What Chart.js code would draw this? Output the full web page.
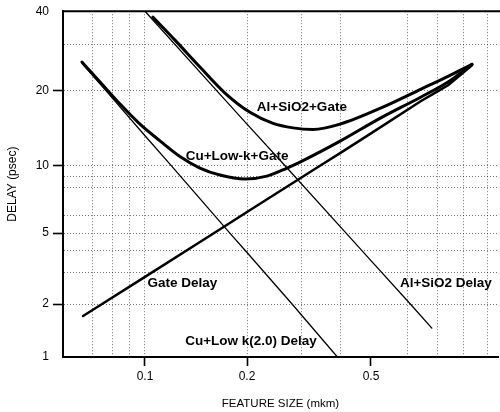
<!DOCTYPE html>
<html>
<head>
<meta charset="utf-8">
<script src="https://cdn.jsdelivr.net/npm/chart.js@4.4.1/dist/chart.umd.min.js"></script>
<style>
  html, body { margin: 0; padding: 0; background: #fff; }
  #c { display: block; }
</style>
</head>
<body>
<canvas id="c" width="500" height="412"></canvas>
<script>
// ---------------- data ----------------
const xTickLabels = [0.1, 0.2, 0.5];
const yTickLabels = [1, 2, 5, 10, 20, 40];
const xGrid = [0.07, 0.08, 0.09, 0.1, 0.2, 0.3, 0.4, 0.6, 0.7, 0.8, 0.9];
const yGrid = [2, 3, 4, 5, 6, 8, 9, 10, 20, 30];
const xTickMarks = [0.1, 0.2, 0.5];
const yTickMarks = [2, 5, 10, 20];

const alGateX = [0.1055, 0.1226, 0.1453, 0.1722, 0.2045, 0.2425, 0.281, 0.3257, 0.398, 0.531, 0.644, 0.738, 0.833];
const alGateY = [38.0, 31.1, 24.6, 19.6, 16.4, 14.8, 14.2, 14.0, 14.7, 17.2, 20.3, 22.7, 25.2];

const cuGateX = [0.0649, 0.0735, 0.0843, 0.0966, 0.1107, 0.1268, 0.1453, 0.1664, 0.1972, 0.2318, 0.2688, 0.2959, 0.398, 0.523, 0.644, 0.738, 0.833];
const cuGateY = [25.7, 21.6, 17.7, 14.7, 12.6, 10.9, 9.77, 9.09, 8.72, 8.99, 9.77, 10.35, 12.56, 15.5, 18.9, 21.6, 25.2];

const gateX = [0.0654, 0.0745, 0.1, 0.16, 0.2, 0.343, 0.398, 0.5, 0.644, 0.703, 0.738, 0.833];
const gateY = [1.71, 2.0, 2.84, 5.0, 6.21, 10.0, 11.24, 13.5, 18.2, 20.0, 21.0, 25.0];

const alDelayX = [0.1, 0.163, 0.2, 0.265, 0.416, 0.5, 0.61, 0.68];
const alDelayY = [40, 20, 14.7, 10, 5, 3.5, 2, 1.46];

const cuDelayX = [0.0649, 0.0766, 0.1, 0.1197, 0.178, 0.2, 0.279, 0.39];
const cuDelayY = [25.4, 20, 13.2, 10, 5, 3.89, 2, 1];

const curveLabels = ['Al+SiO2+Gate', 'Cu+Low-k+Gate', 'Gate Delay', 'Al+SiO2 Delay', 'Cu+Low k(2.0) Delay'];
const labelX = [0.30, 0.187, 0.129, 0.73, 0.206];
const labelY = [17.2, 10.9, 2.62, 2.62, 1.23];

// ---------------- axis shape of the original (uneven log spacing) ----------------
const warpAnchors = {
  x: [[0.057, 0], [0.1, 0.1885], [0.2, 0.4230], [0.5, 0.7080], [0.95, 1]],
  y: [[1, 0], [2, 0.1532], [5, 0.3584], [10, 0.5529], [20, 0.7697], [40, 1]]
};
function warpFrac(id, v) {
  const a = warpAnchors[id];
  const lv = Math.log10(v);
  let i = 0;
  while (i < a.length - 2 && lv > Math.log10(a[i + 1][0])) i++;
  const l0 = Math.log10(a[i][0]), l1 = Math.log10(a[i + 1][0]);
  return a[i][1] + (lv - l0) / (l1 - l0) * (a[i + 1][1] - a[i][1]);
}
function unwarp(id, f) {
  const a = warpAnchors[id];
  let i = 0;
  while (i < a.length - 2 && f > a[i + 1][1]) i++;
  const l0 = Math.log10(a[i][0]), l1 = Math.log10(a[i + 1][0]);
  return Math.pow(10, l0 + (f - a[i][1]) / (a[i + 1][1] - a[i][1]) * (l1 - l0));
}
const LogBase = Chart.LogarithmicScale || Chart.registry.getScale('logarithmic');
class WarpedLogScale extends LogBase {
  getPixelForValue(value) {
    if (value === undefined || value === 0) value = this.min;
    if (value === null || isNaN(value)) return NaN;
    return this.getPixelForDecimal(warpFrac(this.id, value));
  }
  getValueForPixel(pixel) {
    return unwarp(this.id, this.getDecimalForPixel(pixel));
  }
}
WarpedLogScale.id = 'warpedLog';
WarpedLogScale.defaults = {};
Chart.register(WarpedLogScale);

const zip = (xs, ys) => xs.map((x, i) => ({ x: x, y: ys[i] }));
const xTickValues = Array.from(new Set(xGrid.concat(xTickLabels))).sort((a, b) => a - b);
const yTickValues = Array.from(new Set(yGrid.concat(yTickLabels))).sort((a, b) => a - b);

const FONT = '"Liberation Sans", Arial, Helvetica, sans-serif';
const GRIDC = 'rgba(0,0,0,0.55)';
const NONE = 'rgba(0,0,0,0)';

const labelPlugin = {
  id: 'curveLabels',
  afterDatasetsDraw(chart) {
    const { ctx, chartArea, scales } = chart;
    ctx.save();
    ctx.strokeStyle = '#000';
    ctx.lineWidth = 2;
    ctx.beginPath();
    ctx.moveTo(chartArea.left - 1, chartArea.top);
    ctx.lineTo(chart.width, chartArea.top);
    ctx.stroke();
    ctx.font = 'bold 13.5px ' + FONT;
    ctx.fillStyle = '#000';
    ctx.textAlign = 'center';
    ctx.textBaseline = 'middle';
    curveLabels.forEach((t, i) => {
      ctx.fillText(t, scales.x.getPixelForValue(labelX[i]), scales.y.getPixelForValue(labelY[i]));
    });
    ctx.restore();
  }
};

const lineDs = (data, width, curved) => ({
  data: data,
  borderColor: '#000',
  borderWidth: width,
  pointRadius: 0,
  fill: false,
  tension: curved ? 0.4 : 0,
  cubicInterpolationMode: curved ? 'monotone' : 'default',
  borderCapStyle: 'round',
  borderJoinStyle: 'round'
});

new Chart(document.getElementById('c'), {
  type: 'line',
  data: {
    datasets: [
      lineDs(zip(alGateX, alGateY), 3, true),
      lineDs(zip(cuGateX, cuGateY), 3, true),
      lineDs(zip(gateX, gateY), 2.5, false),
      lineDs(zip(alDelayX, alDelayY), 1.3, false),
      lineDs(zip(cuDelayX, cuDelayY), 1.3, false)
    ]
  },
  options: {
    responsive: false,
    animation: false,
    devicePixelRatio: 1,
    layout: { padding: { top: 11, right: 2, left: 0, bottom: 0 } },
    plugins: { legend: { display: false }, tooltip: { enabled: false } },
    scales: {
      x: {
        type: 'warpedLog',
        min: 0.057,
        max: 0.95,
        bounds: 'data',
        afterBuildTicks: s => { s.ticks = xTickValues.map(v => ({ value: v })); },
        afterFit: s => { s.height = 55; },
        ticks: {
          autoSkip: false, maxRotation: 0, minRotation: 0, padding: 3,
          color: '#000', font: { family: FONT, size: 12 },
          callback: v => xTickLabels.includes(v) ? String(v) : ''
        },
        grid: {
          color: c => (c.tick && xGrid.includes(c.tick.value)) ? GRIDC : NONE,
          lineWidth: 1,
          drawTicks: true,
          tickLength: 9,
          tickWidth: 1.6,
          tickColor: c => (c.tick && xTickMarks.includes(c.tick.value)) ? '#000' : NONE
        },
        border: { display: true, color: '#000', width: 2, dash: [1, 2] },
        title: {
          display: true, text: 'FEATURE SIZE (mkm)', color: '#000',
          font: { family: FONT, size: 11.5 }, padding: { top: 0, bottom: 1 }
        }
      },
      y: {
        type: 'warpedLog',
        min: 1,
        max: 40,
        bounds: 'data',
        afterBuildTicks: s => { s.ticks = yTickValues.map(v => ({ value: v })); },
        afterFit: s => { s.width = 63; },
        ticks: {
          autoSkip: false, padding: 4,
          color: '#000', font: { family: FONT, size: 12 },
          callback: v => yTickLabels.includes(v) ? String(v) : ''
        },
        grid: {
          color: c => (c.tick && yGrid.includes(c.tick.value)) ? GRIDC : NONE,
          lineWidth: 1,
          drawTicks: true,
          tickLength: 10,
          tickWidth: 1.6,
          tickColor: c => (c.tick && yTickMarks.includes(c.tick.value)) ? '#000' : NONE
        },
        border: { display: true, color: '#000', width: 2, dash: [1, 2] },
        title: {
          display: true, text: 'DELAY (psec)', color: '#000',
          font: { family: FONT, size: 12 }, padding: { top: 5, bottom: 0 }
        }
      }
    }
  },
  plugins: [labelPlugin]
});
</script>
</body>
</html>
